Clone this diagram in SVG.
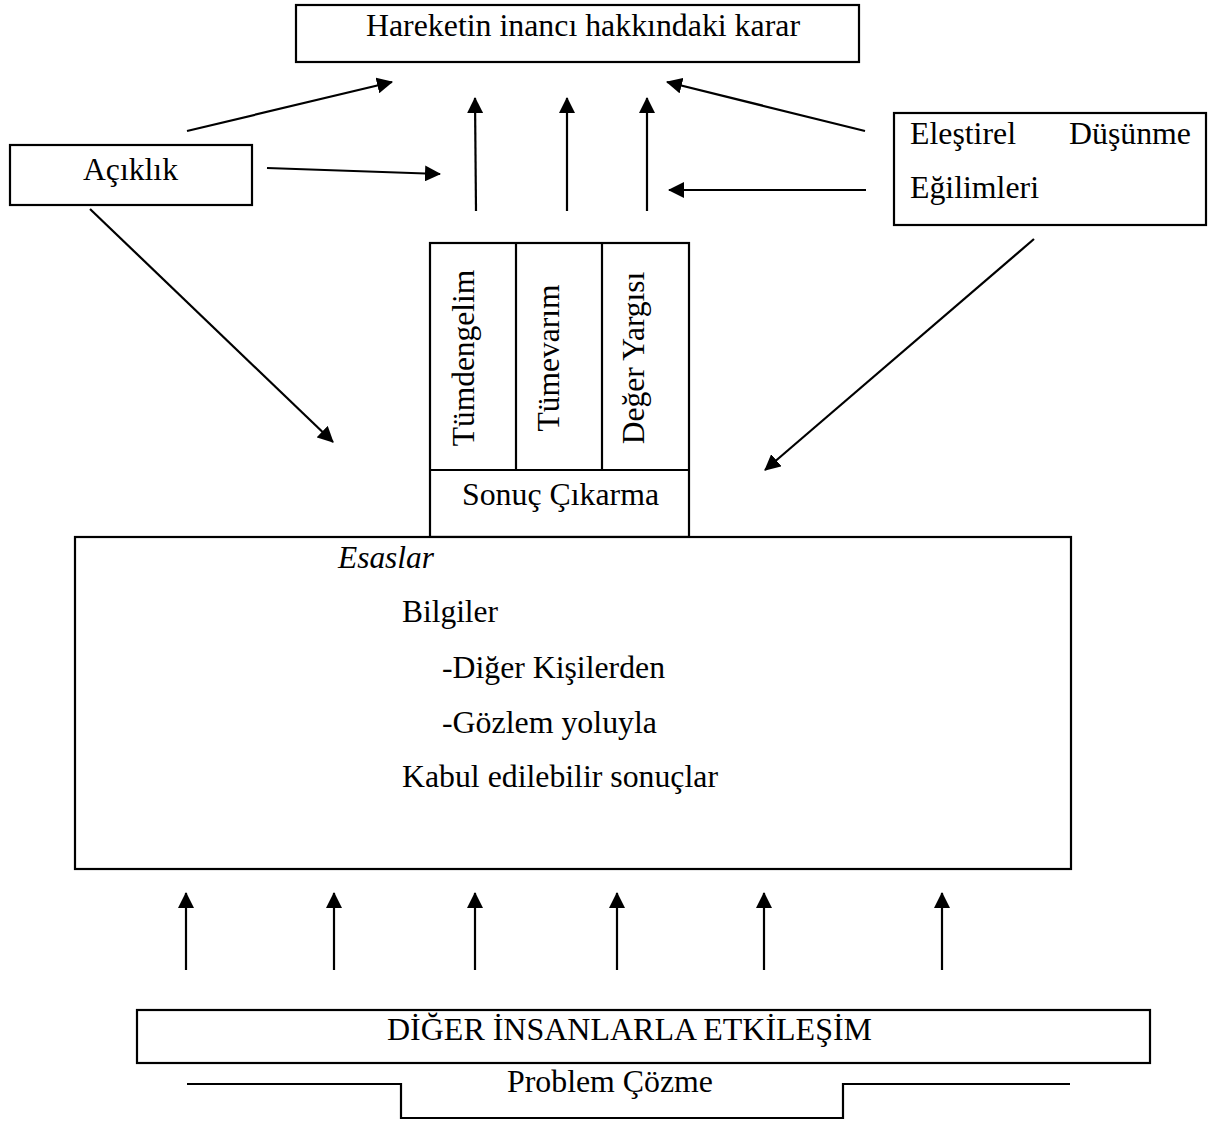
<svg xmlns="http://www.w3.org/2000/svg" width="1218" height="1124" viewBox="0 0 1218 1124">
<defs>
<style>
.box{fill:#fff;stroke:#000;stroke-width:2.2}
.ln{fill:none;stroke:#000;stroke-width:2.2}
.t{font-family:"Liberation Serif","Times New Roman",serif;font-size:32px;fill:#000}
.r{font-family:"Liberation Serif","Times New Roman",serif;font-size:31.5px;fill:#000}
.it{font-style:italic}
</style>
<marker id="ah" viewBox="0 0 16 16" refX="15" refY="8" markerWidth="16" markerHeight="16" markerUnits="userSpaceOnUse" orient="auto">
<path d="M0,0 L16,8 L0,16 z" fill="#000"/>
</marker>
</defs>
<rect width="1218" height="1124" fill="#fff"/>

<g id="karar">
<rect class="box" x="296" y="5" width="563" height="57"/>
<text class="t" x="366" y="36" textLength="434" lengthAdjust="spacingAndGlyphs">Hareketin inancı hakkındaki karar</text>
</g>

<g id="aciklik">
<rect class="box" x="10" y="145" width="242" height="60"/>
<text class="t" x="83" y="180" textLength="95" lengthAdjust="spacingAndGlyphs">Açıklık</text>
</g>

<g id="elestirel">
<rect class="box" x="894" y="113" width="312" height="112"/>
<text class="t" x="910" y="144" textLength="106" lengthAdjust="spacingAndGlyphs">Eleştirel</text>
<text class="t" x="1069" y="144" textLength="122" lengthAdjust="spacingAndGlyphs">Düşünme</text>
<text class="t" x="910" y="198" textLength="129" lengthAdjust="spacingAndGlyphs">Eğilimleri</text>
</g>

<g id="sonuc">
<rect class="box" x="430" y="243" width="259" height="294"/>
<line class="ln" x1="430" y1="470" x2="689" y2="470"/>
<line class="ln" x1="516" y1="243" x2="516" y2="470"/>
<line class="ln" x1="602" y1="243" x2="602" y2="470"/>
<text class="r" transform="translate(474,358) rotate(-90)" text-anchor="middle">Tümdengelim</text>
<text class="r" transform="translate(559,358) rotate(-90)" text-anchor="middle">Tümevarım</text>
<text class="r" transform="translate(644,358) rotate(-90)" text-anchor="middle">Değer Yargısı</text>
<text class="t" x="462" y="505" textLength="197" lengthAdjust="spacingAndGlyphs">Sonuç Çıkarma</text>
</g>

<g id="esaslar">
<rect class="box" x="75" y="537" width="996" height="332"/>
<text class="t it" x="338" y="568" textLength="96" lengthAdjust="spacingAndGlyphs">Esaslar</text>
<text class="t" x="402" y="622" textLength="96" lengthAdjust="spacingAndGlyphs">Bilgiler</text>
<text class="t" x="442" y="678" textLength="223" lengthAdjust="spacingAndGlyphs">-Diğer Kişilerden</text>
<text class="t" x="442" y="733" textLength="215" lengthAdjust="spacingAndGlyphs">-Gözlem yoluyla</text>
<text class="t" x="402" y="787" textLength="316" lengthAdjust="spacingAndGlyphs">Kabul edilebilir sonuçlar</text>
</g>

<g id="etkilesim">
<rect class="box" x="137" y="1010" width="1013" height="53"/>
<text class="t" x="387" y="1040" textLength="485" lengthAdjust="spacingAndGlyphs">DİĞER İNSANLARLA ETKİLEŞİM</text>
</g>

<g id="problem">
<path class="ln" d="M187,1084 H401 V1118 H843 V1084 H1070"/>
<text class="t" x="507" y="1092" textLength="206" lengthAdjust="spacingAndGlyphs">Problem Çözme</text>
</g>

<g id="connectors" class="ln" marker-end="url(#ah)">
<line x1="187" y1="131" x2="392" y2="82"/>
<line x1="267" y1="168" x2="440" y2="174"/>
<line x1="90" y1="209" x2="333" y2="442"/>
<line x1="476" y1="211" x2="475" y2="98"/>
<line x1="567" y1="211" x2="567" y2="98"/>
<line x1="647" y1="211" x2="647" y2="98"/>
<line x1="865" y1="131" x2="667" y2="82"/>
<line x1="866" y1="190" x2="669" y2="190"/>
<line x1="1034" y1="239" x2="765" y2="470"/>
<line x1="186" y1="970" x2="186" y2="893"/>
<line x1="334" y1="970" x2="334" y2="893"/>
<line x1="475" y1="970" x2="475" y2="893"/>
<line x1="617" y1="970" x2="617" y2="893"/>
<line x1="764" y1="970" x2="764" y2="893"/>
<line x1="942" y1="970" x2="942" y2="893"/>
</g>
</svg>
